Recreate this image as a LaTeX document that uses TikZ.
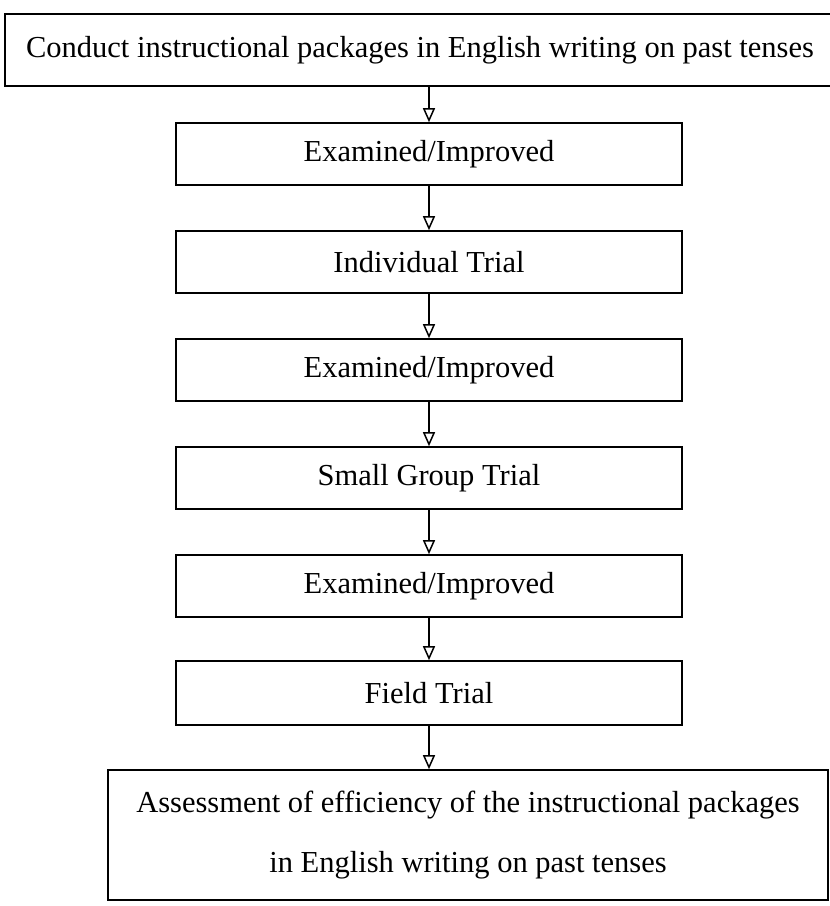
\documentclass[tikz,border=0pt]{standalone}
\usepackage{fontspec}
\setmainfont{Liberation Serif}
\usetikzlibrary{arrows.meta}
\begin{document}
\begin{tikzpicture}[x=1pt, y=-1pt,
        box/.style={draw, line width=1.6pt, minimum width=506pt, minimum height=62pt, inner sep=0pt},
        flow/.style={line width=1.5pt, -{Triangle[open, width=12pt, length=14pt]}},
        font=\fontsize{30.5}{36}\selectfont]
        \clip (0, 0) rectangle (830, 906);
        \node[box, minimum width=850pt, minimum height=72pt] (T) at (430, 50) {\hspace*{-20pt}Conduct instructional packages in English writing on past tenses};
        \node[box] (E1) at (429, 154) {Examined/Improved};
        \node[box] (I) at (429, 262) {Individual Trial};
        \node[box] (E2) at (429, 370) {Examined/Improved};
        \node[box] (S) at (429, 478) {Small Group Trial};
        \node[box] (E3) at (429, 586) {Examined/Improved};
        \node[box, minimum height=64pt] (F) at (429, 693) {Field Trial};
        \node[box, minimum width=720pt, minimum height=130pt, align=center, font=\fontsize{30.5}{60}\selectfont] (A) at (468, 835) {Assessment of efficiency of the instructional packages\\in English writing on past tenses};
        \draw[flow] (E1.north |- T.south) -- (E1.north);
        \draw[flow] (E1) -- (I);
        \draw[flow] (I) -- (E2);
        \draw[flow] (E2) -- (S);
        \draw[flow] (S) -- (E3);
        \draw[flow] (E3) -- (F);
        \draw[flow] (F.south) -- (F.south |- A.north);
    \end{tikzpicture}
\end{document}
